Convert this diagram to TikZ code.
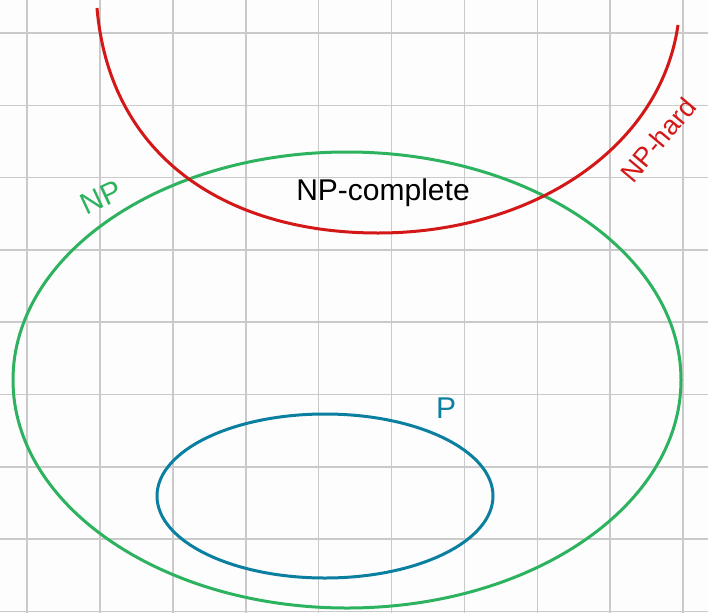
\documentclass[tikz,border=0pt]{standalone}
\usepackage{fontspec}
\setmainfont{Liberation Sans}
\usepackage{tikz}
\definecolor{npgreen}{HTML}{2DB35F}
\definecolor{hardred}{HTML}{D41717}
\definecolor{pteal}{HTML}{0B7FA0}
\definecolor{gridgray}{HTML}{CACACA}
\definecolor{paper}{HTML}{FDFDFD}

\begin{document}
\begin{tikzpicture}[
      x=1pt, y=-1pt,
      gridline/.style={gridgray, line width=1.6pt},
      setline/.style={line width=3pt},
      lab/.style={inner sep=0pt, font=\fontsize{30}{34}\selectfont}
    ]
    \fill[paper] (0,0) rectangle (708,613);
    \useasboundingbox (0,0) rectangle (708,613);
    % grid
    \foreach \i in {0,...,9}
      \draw[gridline] ({27+72.9*\i},0) -- ({27+72.9*\i},613);
    \foreach \j in {0,...,8}
      \draw[gridline] (0,{33+72.3*\j}) -- (708,{33+72.3*\j});
    % sets
    \draw[setline, npgreen] (347,380) ellipse [x radius=334, y radius=228];
    \draw[setline, pteal] (325,496) ellipse [x radius=168, y radius=82];
    \draw[setline, hardred] (97,8) .. controls (110,160) and (230,233) .. (378,233)
          .. controls (530,233) and (660,150) .. (678,25);
    % labels
    \node[lab] (complete) at (383,193) {NP-complete};
    \node[lab, npgreen, rotate=25] (np) at (101,197) {NP};
    \node[lab, hardred, rotate=50, font=\fontsize{27}{30}\selectfont] (hard) at (658,140) {NP-hard};
    \node[lab, pteal] (p) at (446,408) {P};
  \end{tikzpicture}
\end{document}
